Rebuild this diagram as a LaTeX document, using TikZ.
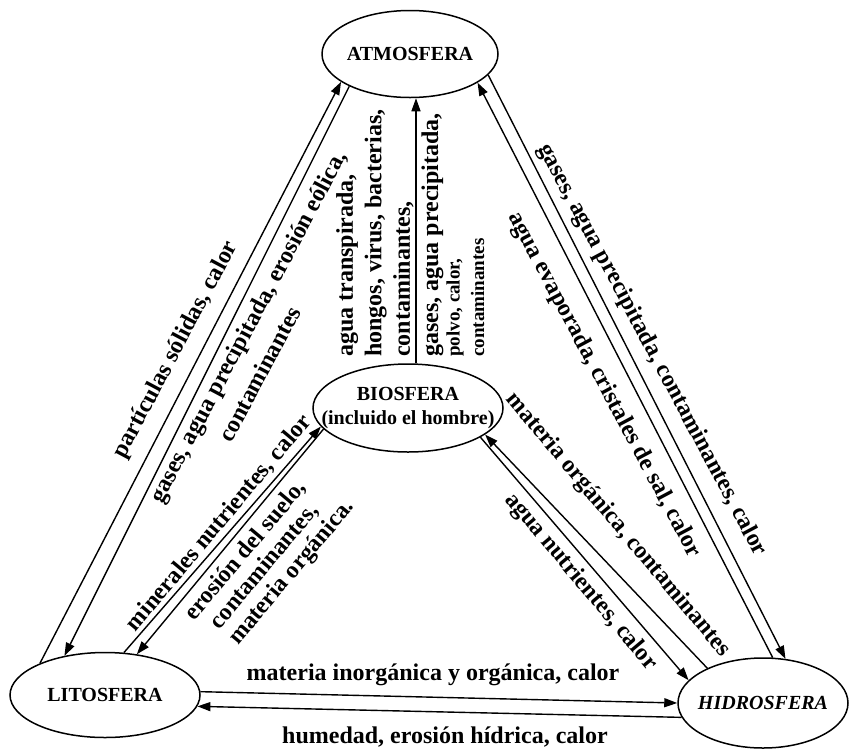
\documentclass[tikz,border=0pt]{standalone}
\usepackage{fontspec}
\setmainfont{Liberation Serif}
\usetikzlibrary{shapes.geometric,arrows.meta}
\newcommand\chica{\fontsize{19}{23}\selectfont}

\begin{document}
\begin{tikzpicture}[x=1pt,y=-1pt,
  esfera/.style={ellipse,draw,line width=1.5pt,inner xsep=-8pt,inner ysep=0pt,
    font=\fontsize{20}{24}\selectfont\bfseries},
  flujo/.style={line width=1.4pt,-{Triangle[length=13pt,width=9pt]}},
  rotulo/.style={inner sep=0pt,font=\fontsize{24}{28.5}\selectfont\bfseries}]

\useasboundingbox (0,0) rectangle (851,748);

% esferas
\node[esfera,minimum width=176pt,minimum height=87pt] (atm) at (410,54) {ATMOSFERA};
\node[esfera,minimum width=190pt,minimum height=88pt,inner xsep=-20pt,align=center] (bio) at (408,408) {BIOSFERA\\(incluido el hombre)};
\node[esfera,minimum width=190pt,minimum height=85pt] (lit) at (105,695) {LITOSFERA};
\node[esfera,minimum width=170pt,minimum height=90pt,font=\fontsize{20}{24}\selectfont\bfseries\itshape] (hid) at (763,703) {HIDROSFERA};

% litosfera - atmosfera
\draw[flujo] (lit.154) -- (atm.202);
\draw[flujo] (atm.208) -- (lit.136);
\node[rotulo,rotate=62] (particulas) at (176,350) {partículas sólidas, calor};
\node[rotulo,rotate=62,align=left] (eolica) at (262,334) {gases, agua precipitada, erosión eólica,\\[4.5pt]\hspace*{86pt}contaminantes};

% biosfera - atmosfera
\draw[flujo] ([xshift=8pt]bio.north) -- ([xshift=8pt]bio.north |- atm.south);
\node[rotulo,rotate=90,anchor=west,align=left] (transp) at (375,357) {agua transpirada,\\hongos, virus, bacterias,\\contaminantes,};
\node[rotulo,rotate=90,anchor=west,align=left] (polvo) at (453,357) {gases, agua precipitada,\\[-7pt]{\chica polvo, calor,}\\[-4pt]{\chica contaminantes}};

% hidrosfera - atmosfera
\draw[flujo] (hid.78) -- (atm.337);
\draw[flujo] (atm.345) -- (hid.63);
\node[rotulo,rotate=-62] (precip) at (652,350) {gases, agua precipitada, contaminantes, calor};
\node[rotulo,rotate=-62] (evap) at (604,385) {agua evaporada, cristales de sal, calor};

% litosfera - biosfera
\draw[flujo] (lit.66) -- (bio.192);
\draw[flujo] (bio.194) -- (lit.52);
\node[rotulo,rotate=50] (minerales) at (219,523) {minerales nutrientes, calor};
\node[rotulo,rotate=50,align=center] (suelo) at (265,567) {erosión del suelo,\\[-4pt]contaminantes,\\[-4pt]\hspace*{26pt}materia orgánica.};

% hidrosfera - biosfera
\draw[flujo] (hid.148) -- (bio.341);
\draw[flujo] (bio.338) -- (hid.163);
\node[rotulo,rotate=-50] (organica) at (618,525) {materia orgánica, contaminantes};
\node[rotulo,rotate=-50] (nutrientes) at (581,582) {agua nutrientes, calor};

% litosfera - hidrosfera
\draw[flujo] (lit.2) -- (hid.180);
\draw[flujo] (hid.190) -- (lit.353);
\node[rotulo] (inorganica) at (433,675) {materia inorgánica y orgánica, calor};
\node[rotulo] (humedad) at (445,737) {humedad, erosión hídrica, calor};

\end{tikzpicture}
\end{document}
